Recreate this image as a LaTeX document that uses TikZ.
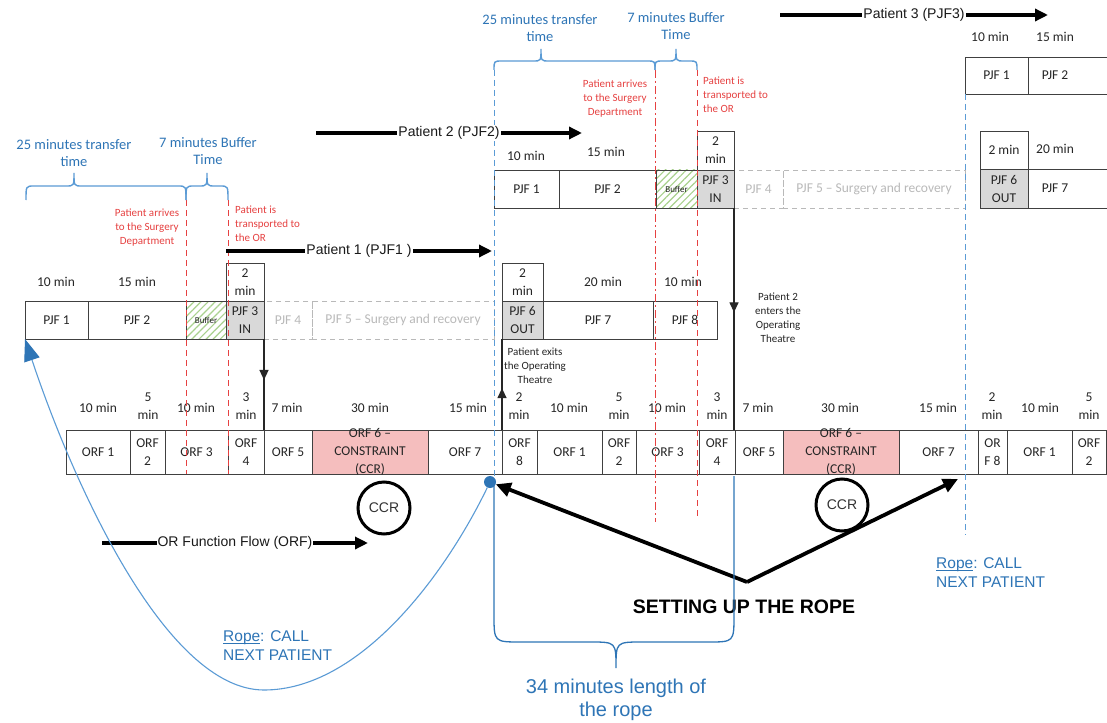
\documentclass[tikz,border=0pt]{standalone}
\usepackage{fontspec}
\setmainfont{Carlito}
\newfontfamily\arialf{Liberation Sans}
\usetikzlibrary{arrows.meta,patterns.meta,decorations.markings}
\definecolor{bluec}{RGB}{46,117,182}
\definecolor{bluel}{RGB}{91,155,213}
\definecolor{redc}{RGB}{230,65,65}
\definecolor{pinkc}{RGB}{245,190,190}
\definecolor{grayf}{RGB}{217,217,217}
\definecolor{ghostc}{RGB}{185,185,185}
\definecolor{ghostt}{RGB}{185,185,185}
\definecolor{bufc}{RGB}{169,209,142}
% #1 style, #2 name, #3 x1, #4 x2, #5 y1, #6 y2, #7 text
\newcommand{\cellbox}[7][]{%
  \node[cell,#1,minimum width={(#4-#3)*1pt},minimum height={(#6-#5)*1pt},
        label={[celltext]center:{#7}}] (#2) at ({(#3+#4)/2},{(#5+#6)/2}) {};}
\newcommand{\bluebrace}[6]{% x1 x2 xtip ybase ymid ytip
  \draw[bracec] (#1,#4) .. controls (#1,#5) .. ({#1+8},#5) -- ({#3-8},#5)
    .. controls (#3,#5) .. (#3,#6) .. controls (#3,#5) .. ({#3+8},#5)
    -- ({#2-8},#5) .. controls (#2,#5) .. (#2,#4);}
\newcommand{\ropeul}{\setbox0\hbox{Rope}\rlap{\rule[-2.2pt]{\wd0}{0.9pt}}\box0}
\begin{document}
\begin{tikzpicture}[x=1pt,y=-1pt,
  cell/.style={rectangle,draw=black!75,line width=0.9pt,inner sep=0pt,outer sep=0pt},
  ghost/.style={draw=ghostc,dash pattern=on 5pt off 4pt},
  grayfill/.style={fill=grayf},
  pinkfill/.style={fill=pinkc},
  buffer/.style={pattern={Lines[angle=45,distance=5pt,line width=1.2pt]},pattern color=bufc},
  celltext/.style={font=\fontsize{13.5}{18}\selectfont,align=center,inner sep=0pt,text=black!85},
  note/.style={font=\fontsize{11}{14}\selectfont,align=center,inner sep=0pt,text=black!85},
  rednote/.style={note,text=redc},
  head/.style={font=\fontsize{14.5}{16.5}\selectfont,align=center,inner sep=0pt,text=bluec},
  patharrow/.style={line width=3.3pt,-{Triangle[length=13pt,width=12pt]}},
  plabel/.style={font=\arialf\fontsize{14}{16}\selectfont,fill=white,inner sep=1pt,text=black!90},
  conn/.style={line width=1.3pt,black!85},
  midarrow/.style={postaction={decorate,decoration={markings,mark=at position #1 with {\arrow{Triangle[length=10pt,width=9pt]}}}}},
  redline/.style={redc,line width=1pt,dash pattern=on 6pt off 4pt},
  reddot/.style={redc,line width=1pt,dash pattern=on 8pt off 3pt on 2pt off 3pt},
  blueline/.style={bluel,line width=1pt,dash pattern=on 6pt off 4pt},
  bracec/.style={bluel,line width=1.4pt},
  ccr/.style={circle,draw=black,line width=3pt,minimum size=52pt,inner sep=0pt,font=\arialf\fontsize{14}{16}\selectfont,text=black!80},
  bigarrow/.style={line width=3.8pt,-{Triangle[length=15pt,width=14pt]}},
  ropeline/.style={bluel,line width=1.1pt},
  ropetext/.style={font=\arialf\fontsize{15.5}{19}\selectfont,align=left,inner sep=0pt,text=bluec},
  setting/.style={font=\arialf\bfseries\fontsize{19.5}{22}\selectfont,inner sep=0pt},
  lenlab/.style={font=\arialf\fontsize{20}{23}\selectfont,align=center,inner sep=0pt,text=bluec}
]
\useasboundingbox[fill=white] (0,0) rectangle (1107,722);
\clip (0,0) rectangle (1107,722);

% ---------- Patient 1 row ----------
\cellbox[ghost]{p1d}{264}{312}{301}{339}{\textcolor{ghostt}{PJF 4}}
\cellbox[ghost]{p1e}{312}{494}{301}{339}{\textcolor{ghostt}{PJF 5 – Surgery and recovery}}
\cellbox{p1a}{25}{88}{301}{339}{PJF 1}
\cellbox{p1b}{88}{186}{301}{339}{PJF 2}
\cellbox[buffer]{p1buf}{186}{226}{301}{339}{{\fontsize{9}{10}\selectfont Buffer}}
\cellbox[grayfill]{p1c}{226}{264}{301}{339}{PJF 3\\IN}
\cellbox{p1ct}{226}{264}{263}{301}{2\\min}
\cellbox[grayfill]{p1f}{502}{543}{301}{339}{PJF 6\\OUT}
\cellbox{p1ft}{502}{543}{263}{301}{2\\min}
\cellbox{p1g}{543}{653}{301}{339}{PJF 7}
\cellbox{p1h}{653}{717}{301}{339}{PJF 8}
\node[celltext] (m1) at (56,282) {10 min};
\node[celltext] (m2) at (137,282) {15 min};
\node[celltext] (m3) at (603,282) {20 min};
\node[celltext] (m4) at (683,282) {10 min};

% ---------- Patient 2 row ----------
\cellbox[ghost]{p2d}{734}{783}{170}{208}{\textcolor{ghostt}{PJF 4}}
\cellbox[ghost]{p2e}{783}{965}{170}{208}{\textcolor{ghostt}{PJF 5 – Surgery and recovery}}
\cellbox{p2a}{494}{559}{170}{208}{PJF 1}
\cellbox{p2b}{559}{656}{170}{208}{PJF 2}
\cellbox[buffer]{p2buf}{656}{697}{170}{208}{{\fontsize{9}{10}\selectfont Buffer}}
\cellbox[grayfill]{p2c}{697}{734}{170}{208}{PJF 3\\IN}
\cellbox{p2ct}{697}{734}{131}{170}{2\\min}
\cellbox[grayfill]{p2f}{980}{1028}{169}{208}{PJF 6\\OUT}
\cellbox{p2ft}{980}{1028}{131}{169}{2 min}
\node[cell,minimum width=84pt,minimum height=39pt,anchor=north west] (p2g) at (1028,169) {};
\node[celltext] (p2gt) at (1055,188.5) {PJF 7};
\node[celltext] (m5) at (526,156) {10 min};
\node[celltext] (m6) at (606,152) {15 min};
\node[celltext] (m7) at (1055,149) {20 min};

% ---------- Patient 3 row ----------
\cellbox{p3a}{965}{1028}{57}{94}{PJF 1}
\node[cell,minimum width=84pt,minimum height=37pt,anchor=north west] (p3b) at (1028,57) {};
\node[celltext] (p3bt) at (1055,75.5) {PJF 2};
\node[celltext] (m8) at (990,37) {10 min};
\node[celltext] (m9) at (1055,37) {15 min};

% ---------- ORF row ----------
\cellbox{a1}{66}{130}{430}{474}{ORF 1}
\cellbox{a2}{130}{165}{430}{474}{ORF\\2}
\cellbox{a3}{165}{228}{430}{474}{ORF 3}
\cellbox{a4}{228}{264}{430}{474}{ORF\\4}
\cellbox{a5}{264}{312}{430}{474}{ORF 5}
\cellbox[pinkfill]{a6}{312}{428}{430}{474}{ORF 6 –\\CONSTRAINT\\(CCR)}
\cellbox{a7}{428}{502}{430}{474}{ORF 7}
\cellbox{a8}{502}{537}{430}{474}{ORF\\8}
\cellbox{b1}{537}{602}{430}{474}{ORF 1}
\cellbox{b2}{602}{636}{430}{474}{ORF\\2}
\cellbox{b3}{636}{699}{430}{474}{ORF 3}
\cellbox{b4}{699}{735}{430}{474}{ORF\\4}
\cellbox{b5}{735}{783}{430}{474}{ORF 5}
\cellbox[pinkfill]{b6}{783}{899}{430}{474}{ORF 6 –\\CONSTRAINT\\(CCR)}
\cellbox{b7}{899}{978}{430}{474}{ORF 7}
\cellbox{b8}{978}{1007}{430}{474}{OR\\F 8}
\cellbox{c1}{1007}{1072}{430}{474}{ORF 1}
\cellbox{c2}{1072}{1106}{430}{474}{ORF\\2}

\foreach \x in {98,196,569,667,1040} \node[celltext] (ten\x) at (\x,408) {10 min};
\foreach \x in {287,758} \node[celltext] (sev\x) at (\x,408) {7 min};
\foreach \x in {370,840} \node[celltext] (thi\x) at (\x,408) {30 min};
\foreach \x in {468,938} \node[celltext] (fif\x) at (\x,408) {15 min};
\foreach \x in {148,619,1089} \node[celltext] (fiv\x) at (\x,406) {5\\min};
\foreach \x in {246,717} \node[celltext] (thr\x) at (\x,406) {3\\min};
\foreach \x in {519,992} \node[celltext] (two\x) at (\x,406) {2\\min};

% ---------- guide lines ----------
\draw[redline] (186,200) -- (186,474);
\draw[redline] (228,200) -- (228,474);
\draw[reddot] (655,70) -- (655,522);
\draw[redline] (697,70) -- (697,517);
\draw[blueline] (494,70) -- (494,482);
\draw[blueline] (965,94) -- (965,535);

% ---------- braces and headings ----------
\bluebrace{26}{186}{74}{200}{186}{173}
\bluebrace{186}{228}{207}{200}{186}{173}
\bluebrace{494}{655}{541}{70}{61}{49}
\bluebrace{655}{697}{676}{70}{61}{49}
\node[head] (h1) at (74,153) {25 minutes transfer\\time};
\node[head] (h2) at (208,151) {7 minutes Buffer\\Time};
\node[head] (h3) at (540,28) {25 minutes transfer\\time};
\node[head] (h4) at (676,26) {7 minutes Buffer\\Time};

% ---------- notes ----------
\node[rednote] (n1) at (147,228) {Patient arrives\\to the Surgery\\Department};
\node[rednote,align=left,anchor=west] (n2) at (235,224) {Patient is\\transported to\\the OR};
\node[rednote] (n3) at (615,99) {Patient arrives\\to the Surgery\\Department};
\node[rednote,align=left,anchor=west] (n4) at (703,95) {Patient is\\transported to\\the OR};
\node[note] (n5) at (535,366) {Patient exits\\the Operating\\Theatre};
\node[note] (n6) at (778,318) {Patient 2\\enters the\\Operating\\Theatre};

% ---------- flow arrows ----------
\coordinate (pa1s) at (226,251); \coordinate (pa1e) at (492,251);
\draw[patharrow] (pa1s) -- node[plabel] (pl1) {Patient 1 (PJF1 )} (pa1e);
\coordinate (pa2s) at (316,133); \coordinate (pa2e) at (582,133);
\draw[patharrow] (pa2s) -- node[plabel] (pl2) {Patient 2 (PJF2)} (pa2e);
\coordinate (pa3s) at (780,15); \coordinate (pa3e) at (1048,15);
\draw[patharrow] (pa3s) -- node[plabel] (pl3) {Patient 3 (PJF3)} (pa3e);
\coordinate (orfs) at (102,543); \coordinate (orfe) at (368,543);
\draw[patharrow] (orfs) -- node[plabel] (pl4) {OR Function Flow (ORF)} (orfe);

% ---------- vertical connectors ----------
\draw[conn,midarrow=0.45] (p1c.south east) -- (a4.north east);
\draw[conn,midarrow=0.47] (p2c.south east) -- (p2c.south east |- b5.north);
\draw[conn,midarrow=0.46] (a8.north west) -- (p1f.south west);

% ---------- CCR ----------
\node[ccr] (ccr1) at (384,508) {CCR};
\node[ccr] (ccr2) at (842,505) {CCR};

% ---------- rope ----------
\node[circle,fill=bluec,inner sep=0pt,minimum size=12pt] (dot) at (490,482) {};
\draw[ropeline,-{Triangle[length=22pt,width=16pt,color=bluec]}] (dot)
  .. controls (445,575) and (360,690) .. (264,690)
  .. controls (165,690) and (72,480) .. (p1a.south west);
\node[ropetext,anchor=west] (r1) at (223,646) {\ropeul: CALL\\NEXT PATIENT};
\node[ropetext,anchor=west] (r2) at (936,573) {\ropeul: CALL\\NEXT PATIENT};

% ---------- setting up the rope ----------
\coordinate (sv) at (747,582);
\coordinate (st) at (958,479);
\draw[bigarrow] (sv) -- (dot);
\draw[bigarrow] (sv) -- (st);
\node[setting] (set) at (744,607) {SETTING UP THE ROPE};

% ---------- rope length bracket ----------
\draw[bluec,line width=1.3pt] (494,486) -- (494,615) .. controls (494,642) .. (521,642)
  -- (590,642) .. controls (616,642) .. (616,668) .. controls (616,642) .. (642,642)
  -- (708,642) .. controls (734,642) .. (734,615) -- (734,476);
\node[lenlab] (len) at (616,700) {34 minutes length of\\the rope};
\end{tikzpicture}
\end{document}
